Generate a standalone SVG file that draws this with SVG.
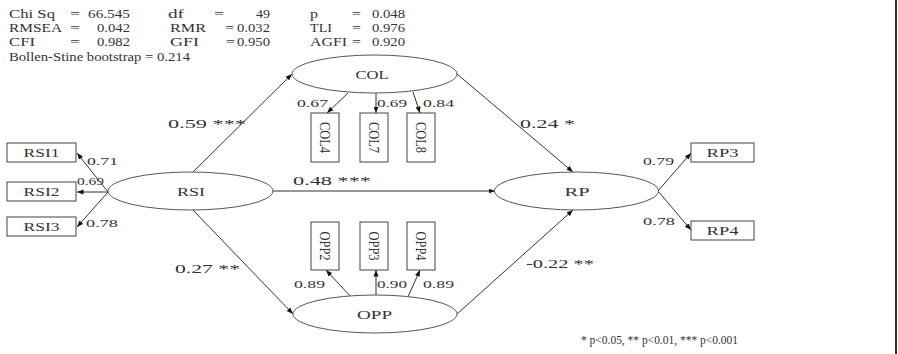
<svg xmlns="http://www.w3.org/2000/svg" width="898" height="354" viewBox="0 0 898 354">
<style>
.ln{stroke:#333;stroke-width:1;fill:none}
.box{fill:#fff;stroke:#444;stroke-width:1}
.ell{fill:#fff;stroke:#555;stroke-width:1}
text{font-family:"Liberation Serif","Times New Roman",serif;fill:#333}
.st{font-size:12px}
.nd{font-size:12.5px;text-anchor:middle}
.lb{font-size:11px}
.pl{font-size:13.5px}
.fn{font-size:11.5px}
</style>
<defs>
<marker id="ah" markerUnits="userSpaceOnUse" markerWidth="7" markerHeight="6" refX="6.5" refY="3" orient="auto">
<path d="M0,0.5 L6.5,3 L0,5.5 z" fill="#111"/>
</marker>
</defs>
<rect width="898" height="354" fill="#fff"/>
<line x1="896" y1="0" x2="896" y2="354" stroke="#333" stroke-width="2"/>

<g id="fit-stats" class="st">
<text x="9" y="18" textLength="46" lengthAdjust="spacingAndGlyphs">Chi Sq</text>
<text x="70" y="18" textLength="10" lengthAdjust="spacingAndGlyphs">=</text>
<text x="88" y="18" textLength="42" lengthAdjust="spacingAndGlyphs">66.545</text>
<text x="168" y="18" textLength="16" lengthAdjust="spacingAndGlyphs">df</text>
<text x="214" y="18" textLength="10" lengthAdjust="spacingAndGlyphs">=</text>
<text x="256" y="18" textLength="14" lengthAdjust="spacingAndGlyphs">49</text>
<text x="310" y="18" textLength="8" lengthAdjust="spacingAndGlyphs">p</text>
<text x="352" y="18" textLength="9" lengthAdjust="spacingAndGlyphs">=</text>
<text x="372" y="18" textLength="33" lengthAdjust="spacingAndGlyphs">0.048</text>

<text x="9" y="32" textLength="53" lengthAdjust="spacingAndGlyphs">RMSEA</text>
<text x="70" y="32" textLength="10" lengthAdjust="spacingAndGlyphs">=</text>
<text x="97" y="32" textLength="33" lengthAdjust="spacingAndGlyphs">0.042</text>
<text x="170" y="32" textLength="36" lengthAdjust="spacingAndGlyphs">RMR</text>
<text x="225" y="32" textLength="9" lengthAdjust="spacingAndGlyphs">=</text>
<text x="237" y="32" textLength="33" lengthAdjust="spacingAndGlyphs">0.032</text>
<text x="310" y="32" textLength="22" lengthAdjust="spacingAndGlyphs">TLI</text>
<text x="352" y="32" textLength="9" lengthAdjust="spacingAndGlyphs">=</text>
<text x="372" y="32" textLength="33" lengthAdjust="spacingAndGlyphs">0.976</text>

<text x="9" y="46" textLength="26" lengthAdjust="spacingAndGlyphs">CFI</text>
<text x="70" y="46" textLength="10" lengthAdjust="spacingAndGlyphs">=</text>
<text x="97" y="46" textLength="33" lengthAdjust="spacingAndGlyphs">0.982</text>
<text x="170" y="46" textLength="29" lengthAdjust="spacingAndGlyphs">GFI</text>
<text x="226" y="46" textLength="9" lengthAdjust="spacingAndGlyphs">=</text>
<text x="237" y="46" textLength="33" lengthAdjust="spacingAndGlyphs">0.950</text>
<text x="310" y="46" textLength="37" lengthAdjust="spacingAndGlyphs">AGFI</text>
<text x="352" y="46" textLength="9" lengthAdjust="spacingAndGlyphs">=</text>
<text x="372" y="46" textLength="33" lengthAdjust="spacingAndGlyphs">0.920</text>

<text x="9" y="61" textLength="181" lengthAdjust="spacingAndGlyphs">Bollen-Stine bootstrap = 0.214</text>
</g>

<g id="connectors" class="ln">
<line x1="108" y1="192" x2="77" y2="153" marker-end="url(#ah)"/>
<line x1="108" y1="192" x2="77" y2="192" marker-end="url(#ah)"/>
<line x1="108" y1="192" x2="77" y2="227" marker-end="url(#ah)"/>
<line x1="193" y1="172" x2="292" y2="74" marker-end="url(#ah)"/>
<line x1="273" y1="191" x2="495" y2="191" marker-end="url(#ah)"/>
<line x1="193" y1="210" x2="293" y2="314" marker-end="url(#ah)"/>
<line x1="457" y1="74" x2="573" y2="172" marker-end="url(#ah)"/>
<line x1="457" y1="314" x2="573" y2="210" marker-end="url(#ah)"/>
<line x1="348" y1="93" x2="327" y2="113" marker-end="url(#ah)"/>
<line x1="376" y1="93" x2="376" y2="113" marker-end="url(#ah)"/>
<line x1="413" y1="92" x2="420" y2="113" marker-end="url(#ah)"/>
<line x1="352" y1="298" x2="326" y2="270" marker-end="url(#ah)"/>
<line x1="376" y1="295" x2="376" y2="270" marker-end="url(#ah)"/>
<line x1="407" y1="299" x2="420" y2="270" marker-end="url(#ah)"/>
<line x1="658" y1="191" x2="691" y2="153" marker-end="url(#ah)"/>
<line x1="658" y1="191" x2="691" y2="230" marker-end="url(#ah)"/>
</g>

<g id="RSI1"><rect class="box" x="7" y="143" width="69" height="19"/><text class="nd" x="41.5" y="157" textLength="36" lengthAdjust="spacingAndGlyphs">RSI1</text></g>
<g id="RSI2"><rect class="box" x="7" y="182" width="69" height="19"/><text class="nd" x="41.5" y="196" textLength="36" lengthAdjust="spacingAndGlyphs">RSI2</text></g>
<g id="RSI3"><rect class="box" x="7" y="217" width="69" height="19"/><text class="nd" x="41.5" y="231" textLength="36" lengthAdjust="spacingAndGlyphs">RSI3</text></g>
<g id="RSI"><ellipse class="ell" cx="190.5" cy="191" rx="82.5" ry="19"/><text class="nd" x="191" y="196" textLength="28" lengthAdjust="spacingAndGlyphs">RSI</text></g>
<g id="COL"><ellipse class="ell" cx="374.5" cy="74" rx="82.5" ry="19"/><text class="nd" x="372" y="79" textLength="33" lengthAdjust="spacingAndGlyphs">COL</text></g>
<g id="OPP"><ellipse class="ell" cx="375" cy="314" rx="82" ry="19"/><text class="nd" x="374.5" y="319" textLength="35" lengthAdjust="spacingAndGlyphs">OPP</text></g>
<g id="RP"><ellipse class="ell" cx="576.5" cy="191" rx="82" ry="19"/><text class="nd" x="577" y="196" textLength="25" lengthAdjust="spacingAndGlyphs">RP</text></g>
<g id="RP3"><rect class="box" x="691" y="143" width="63" height="19"/><text class="nd" x="722.5" y="157" textLength="32" lengthAdjust="spacingAndGlyphs">RP3</text></g>
<g id="RP4"><rect class="box" x="691" y="221" width="63" height="19"/><text class="nd" x="722.5" y="235" textLength="32" lengthAdjust="spacingAndGlyphs">RP4</text></g>

<g id="COL4"><rect class="box" x="311" y="113" width="28" height="49"/><text class="nd" transform="translate(325,137.5) scale(1.2,1) rotate(90)" x="0" y="4">COL4</text></g>
<g id="COL7"><rect class="box" x="360" y="113" width="28" height="49"/><text class="nd" transform="translate(374,137.5) scale(1.2,1) rotate(90)" x="0" y="4">COL7</text></g>
<g id="COL8"><rect class="box" x="407" y="113" width="28" height="49"/><text class="nd" transform="translate(421,137.5) scale(1.2,1) rotate(90)" x="0" y="4">COL8</text></g>
<g id="OPP2"><rect class="box" x="311" y="222" width="28" height="48"/><text class="nd" transform="translate(325,246) scale(1.2,1) rotate(90)" x="0" y="4">OPP2</text></g>
<g id="OPP3"><rect class="box" x="360" y="222" width="28" height="48"/><text class="nd" transform="translate(374,246) scale(1.2,1) rotate(90)" x="0" y="4">OPP3</text></g>
<g id="OPP4"><rect class="box" x="407" y="222" width="28" height="48"/><text class="nd" transform="translate(421,246) scale(1.2,1) rotate(90)" x="0" y="4">OPP4</text></g>

<g id="labels">
<text class="lb" x="87" y="165" textLength="31" lengthAdjust="spacingAndGlyphs">0.71</text>
<text class="lb" x="77" y="185" textLength="27" lengthAdjust="spacingAndGlyphs">0.69</text>
<text class="lb" x="86" y="227" textLength="32" lengthAdjust="spacingAndGlyphs">0.78</text>
<text class="lb" x="297" y="107" textLength="31" lengthAdjust="spacingAndGlyphs">0.67</text>
<text class="lb" x="377" y="107" textLength="30" lengthAdjust="spacingAndGlyphs">0.69</text>
<text class="lb" x="423" y="107" textLength="31" lengthAdjust="spacingAndGlyphs">0.84</text>
<text class="lb" x="294" y="288" textLength="31" lengthAdjust="spacingAndGlyphs">0.89</text>
<text class="lb" x="377" y="288" textLength="30" lengthAdjust="spacingAndGlyphs">0.90</text>
<text class="lb" x="423" y="288" textLength="31" lengthAdjust="spacingAndGlyphs">0.89</text>
<text class="lb" x="643" y="165" textLength="31" lengthAdjust="spacingAndGlyphs">0.79</text>
<text class="lb" x="643" y="225" textLength="32" lengthAdjust="spacingAndGlyphs">0.78</text>
<text class="pl" x="168" y="128" textLength="78" lengthAdjust="spacingAndGlyphs">0.59 ***</text>
<text class="pl" x="520" y="128" textLength="55" lengthAdjust="spacingAndGlyphs">0.24 *</text>
<text class="pl" x="293" y="185" textLength="78" lengthAdjust="spacingAndGlyphs">0.48 ***</text>
<text class="pl" x="175" y="273" textLength="65" lengthAdjust="spacingAndGlyphs">0.27 **</text>
<text class="pl" x="526" y="268" textLength="68" lengthAdjust="spacingAndGlyphs">-0.22 **</text>
<text class="fn" x="581" y="344" textLength="157">* p&lt;0.05, ** p&lt;0.01, *** p&lt;0.001</text>
</g>
</svg>
